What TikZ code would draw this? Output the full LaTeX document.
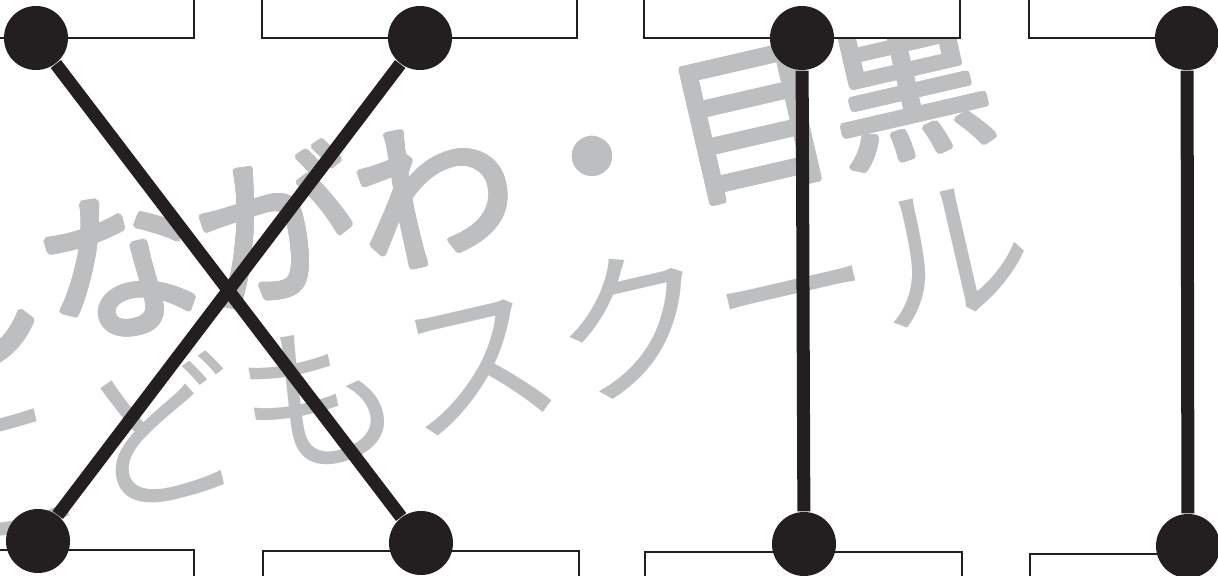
\documentclass[tikz,border=0pt]{standalone}
\usepackage{fontspec}
\usepackage[copies]{contour}
\newfontfamily\cjk{Noto Sans CJK JP}
\usetikzlibrary{positioning}

\definecolor{ink}{HTML}{231F20}
\definecolor{wmgrey}{HTML}{BCBEC0}
\contourlength{0.8pt}
\contournumber{16}

\begin{document}
\begin{tikzpicture}[
    x=0.01cm, y=-0.01cm,
    dot/.style={circle, fill=ink, minimum size=0.64cm, inner sep=0pt},
    wire/.style={draw=ink, line width=0.13cm},
    box/.style={draw=ink, fill=white, line width=0.025cm},
    wmtext/.style={text=wmgrey, rotate=13, inner sep=0pt, font=\cjk\fontsize{46}{46}\selectfont}
]
\clip (0,0) rectangle (1218,576);

% Watermark
\node[wmtext] (wmtop) at (435,194) {\contour{wmgrey}{しながわ・目黒}};
\node[wmtext] (wmbot) at (476,360) {こどもスクール};

% Define boxes (top row, bottom row)
\draw[box] (-50,-60) rectangle (194,38);
\draw[box] (262,-60) rectangle (577,38);
\draw[box] (644,-60) rectangle (960,38);
\draw[box] (1029,-60) rectangle (1300,38);
\draw[box] (-50,550) rectangle (194,650);
\draw[box] (263,551) rectangle (579,650);
\draw[box] (645,552) rectangle (962,650);
\draw[box] (1030,554) rectangle (1300,650);

% Define nodes
\node[dot] (t1) at (36,38) {};
\node[dot] (t2) at (420,38) {};
\node[dot] (t3) at (802,38) {};
\node[dot] (t4) at (1187,38) {};
\node[dot] (b1) at (38,541) {};
\node[dot] (b2) at (421,543) {};
\node[dot] (b3) at (804,544) {};
\node[dot] (b4) at (1188,546) {};

% Define wires
\draw[wire] (t1) -- (b2);
\draw[wire] (t2) -- (b1);
\draw[wire] (t3) -- (b3);
\draw[wire] (t4) -- (b4);

\end{tikzpicture}
\end{document}
